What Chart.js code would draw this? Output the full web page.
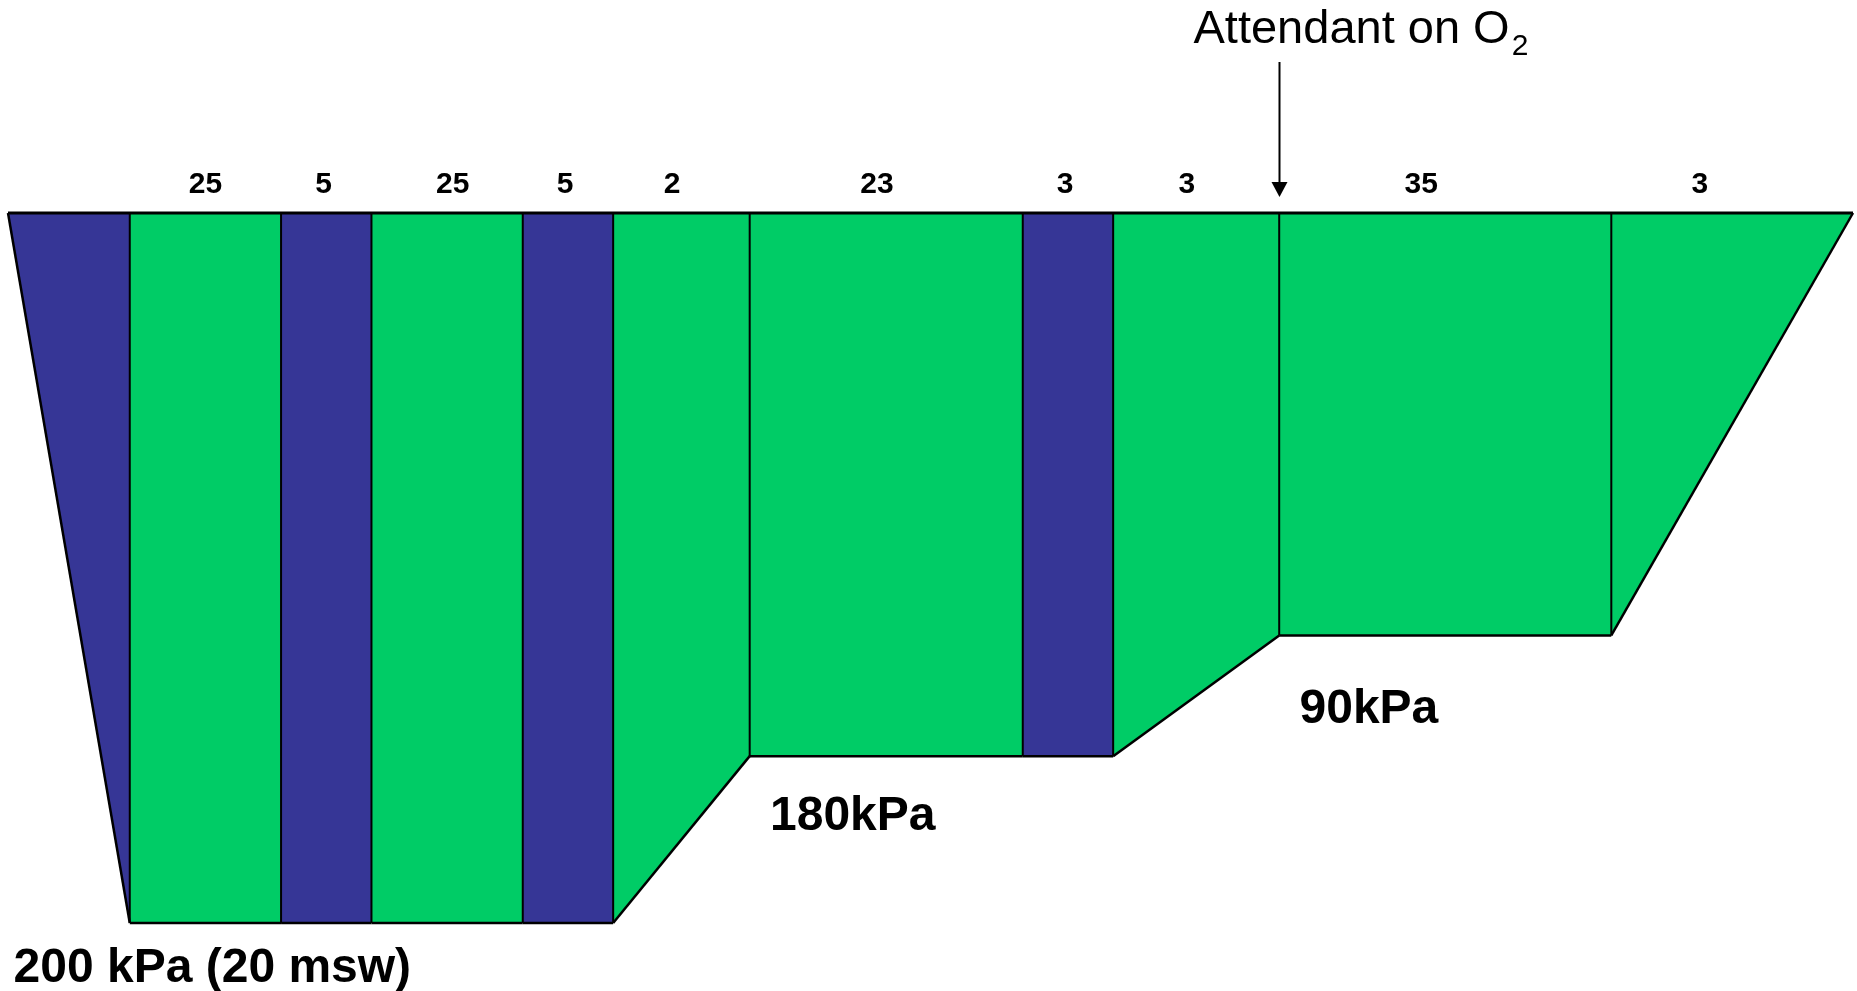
<!DOCTYPE html>
<html>
<head>
<meta charset="utf-8">
<title>Treatment profile</title>
<script src="https://cdn.jsdelivr.net/npm/chart.js@4.4.1/dist/chart.umd.min.js"></script>
<style>
    html, body { margin: 0; padding: 0; background: #fff; }
    #wrap { width: 1857px; height: 991px; }
</style>
</head>
<body>
<div id="wrap"><canvas id="profileChart" width="1857" height="991"></canvas></div>
<script>
// =================================================================
// 1. 데이터
// =================================================================
// x: position along the drawn profile (0 = leaving surface, 100 = back at surface)
const stageEdges = [0, 6.6, 14.8, 19.7, 27.9, 32.8, 40.2, 55.0, 59.9, 68.9, 86.9, 100];
// drawn depth at each edge (0 = surface line, 20 = 200 kPa / 20 msw)
const stageDepths = [0, 20, 20, 20, 20, 20, 15.3, 15.3, 15.3, 11.9, 11.9, 0];
// gas for each stage between two edges
const stageGas = ['air', 'o2', 'air', 'o2', 'air', 'o2', 'o2', 'air', 'o2', 'o2', 'o2'];
// minutes written above each stage (descent has none)
const stageMinutes = ['', '25', '5', '25', '5', '2', '23', '3', '3', '35', '3'];
const minuteLabelX = [null, 10.7, 17.1, 24.1, 30.2, 36.0, 47.1, 57.3, 63.9, 76.6, 91.7];

// pressure labels under the stops
const depthLabels = ['200 kPa (20 msw)', '180kPa', '90kPa'];
const depthLabelX = [0.3, 41.3, 70.0];
const depthLabelY = [21.3, 17.0, 14.0];

// attendant goes on O2 at this edge
const attendantEdge = 9;

const gasColor = { air: '#363696', o2: '#00cc66' };
const FONT = '"Liberation Sans", Arial, sans-serif';

// =================================================================
// 2. 데이터셋 구성
// =================================================================
const datasets = [];

// one filled area per stage, filled up to the surface line
for (let i = 0; i < stageGas.length; i++) {
    datasets.push({
        data: [
            { x: stageEdges[i], y: stageDepths[i] },
            { x: stageEdges[i + 1], y: stageDepths[i + 1] }
        ],
        backgroundColor: gasColor[stageGas[i]],
        borderColor: '#000',
        borderWidth: 2.5,
        fill: 'origin',
        pointRadius: 0,
        tension: 0,
        clip: false,
        order: 1
    });
}

// vertical lines between stages (drawn on top of the fills)
const dividerPoints = [];
for (let i = 1; i < stageEdges.length - 1; i++) {
    dividerPoints.push({ x: stageEdges[i], y: 0 });
    dividerPoints.push({ x: stageEdges[i], y: stageDepths[i] });
    dividerPoints.push({ x: stageEdges[i], y: null });
}
datasets.push({
    data: dividerPoints,
    borderColor: '#000',
    borderWidth: 2,
    fill: false,
    pointRadius: 0,
    spanGaps: false,
    clip: false,
    order: 0
});

// surface line
datasets.push({
    data: [{ x: stageEdges[0], y: 0 }, { x: stageEdges[stageEdges.length - 1], y: 0 }],
    borderColor: '#000',
    borderWidth: 3,
    fill: false,
    pointRadius: 0,
    clip: false,
    order: 0
});

// =================================================================
// 3. 글자 / 화살표 플러그인
// =================================================================
const labelPlugin = {
    id: 'profileLabels',
    afterDraw(chart) {
        const ctx = chart.ctx;
        const xs = chart.scales.x;
        const ys = chart.scales.y;
        const top = ys.getPixelForValue(0);

        ctx.save();
        ctx.fillStyle = '#000';
        ctx.strokeStyle = '#000';

        // minutes
        ctx.font = 'bold 30px ' + FONT;
        ctx.textAlign = 'center';
        ctx.textBaseline = 'middle';
        stageMinutes.forEach((m, i) => {
            if (!m) return;
            ctx.fillText(m, xs.getPixelForValue(minuteLabelX[i]), top - 28);
        });

        // pressures
        ctx.font = 'bold 48px ' + FONT;
        ctx.textAlign = 'left';
        depthLabels.forEach((t, i) => {
            ctx.fillText(t, xs.getPixelForValue(depthLabelX[i]), ys.getPixelForValue(depthLabelY[i]));
        });

        // attendant arrow
        const ax = Math.round(xs.getPixelForValue(stageEdges[attendantEdge])) + 0.5;
        const tip = top - 16;
        ctx.lineWidth = 2;
        ctx.beginPath();
        ctx.moveTo(ax, 62);
        ctx.lineTo(ax, tip - 12);
        ctx.stroke();
        ctx.beginPath();
        ctx.moveTo(ax - 8, tip - 15);
        ctx.lineTo(ax + 8, tip - 15);
        ctx.lineTo(ax, tip);
        ctx.closePath();
        ctx.fill();

        ctx.font = '47px ' + FONT;
        ctx.textBaseline = 'alphabetic';
        const txt = 'Attendant on O';
        const tx = ax - 86;
        ctx.fillText(txt, tx, 43);
        const w = ctx.measureText(txt).width;
        ctx.font = '30px ' + FONT;
        ctx.fillText('2', tx + w + 2, 55);

        ctx.restore();
    }
};

// =================================================================
// 4. 차트 생성
// =================================================================
new Chart(document.getElementById('profileChart'), {
    type: 'line',
    data: { datasets: datasets },
    options: {
        responsive: false,
        animation: false,
        devicePixelRatio: 1,
        layout: { padding: { left: 8, right: 4, top: 213, bottom: 68 } },
        plugins: { legend: { display: false }, tooltip: { enabled: false } },
        scales: {
            x: { type: 'linear', min: 0, max: 100, display: false },
            y: { type: 'linear', min: 0, max: 20, reverse: true, display: false }
        }
    },
    plugins: [labelPlugin]
});
</script>
</body>
</html>
